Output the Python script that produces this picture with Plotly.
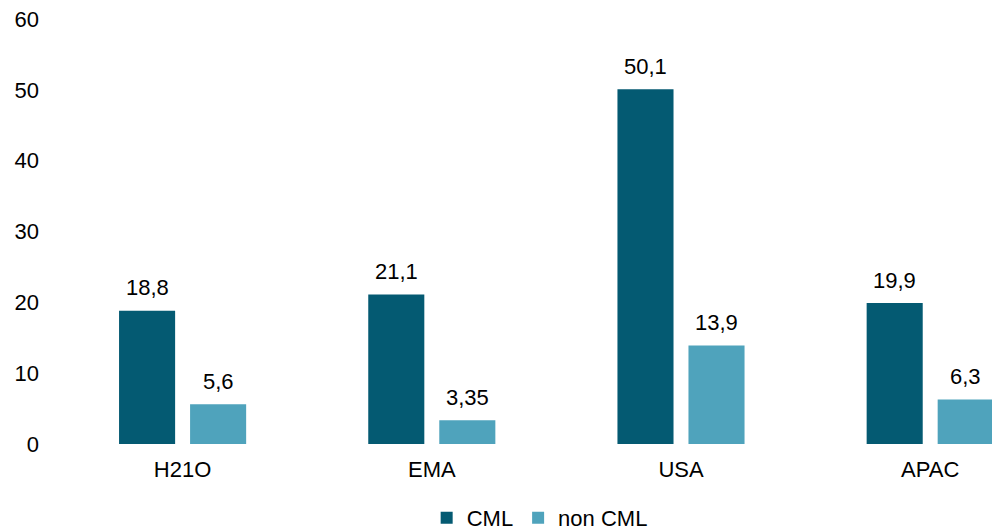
import plotly.graph_objects as go

# Données
regions = ['H21O', 'EMA', 'USA', 'APAC']
cml = [18.8, 21.1, 50.1, 19.9]
non_cml = [5.6, 3.35, 13.9, 6.3]
cml_labels = ['18,8', '21,1', '50,1', '19,9']
non_cml_labels = ['5,6', '3,35', '13,9', '6,3']
y_ticks = [0, 10, 20, 30, 40, 50, 60]

DARK = '#045a72'
LIGHT = '#4fa3bc'
FONT = 'Liberation Sans, Arial, sans-serif'
BAR_W = 0.225

fig = go.Figure()

fig.add_trace(go.Bar(
    x=regions, y=cml, name='CML',
    marker=dict(color=DARK, line=dict(width=0)),
    width=BAR_W, offset=-0.255
))
fig.add_trace(go.Bar(
    x=regions, y=non_cml, name='non CML',
    marker=dict(color=LIGHT, line=dict(width=0)),
    width=BAR_W, offset=0.030
))

# Etiquettes de valeurs au-dessus des barres
annotations = []
for reg, v, lab in zip(regions, cml, cml_labels):
    annotations.append(dict(x=reg, y=v, text=lab, showarrow=False,
                            xshift=-35.5, yshift=23, yanchor='middle',
                            font=dict(size=22, color='#000000', family=FONT)))
for reg, v, lab in zip(regions, non_cml, non_cml_labels):
    annotations.append(dict(x=reg, y=v, text=lab, showarrow=False,
                            xshift=35.5, yshift=23, yanchor='middle',
                            font=dict(size=22, color='#000000', family=FONT)))

fig.update_layout(
    width=992, height=531,
    margin=dict(l=58, r=0, t=19, b=87, autoexpand=False),
    paper_bgcolor='white',
    plot_bgcolor='white',
    font=dict(family=FONT, size=22, color='#000000'),
    barmode='group',
    annotations=annotations,
    showlegend=True,
    legend=dict(
        orientation='h',
        xanchor='center', x=0.5157,
        yanchor='middle', y=-0.174,
        font=dict(size=22, family=FONT),
        itemwidth=30,
        traceorder='normal'
    ),
    xaxis=dict(
        range=[-0.5, 3.248],
        showgrid=False, showline=False, zeroline=False,
        ticks='', ticklabelstandoff=10,
        tickfont=dict(size=22)
    ),
    yaxis=dict(
        range=[0, 60],
        tickvals=y_ticks,
        showgrid=False, showline=False, zeroline=False,
        ticks='', ticklabelstandoff=18,
        tickfont=dict(size=22)
    ),
)

# marge du body à zéro pour que la figure occupe toute la fenêtre
fig.write_html('out.html', config={'displayModeBar': False},
               post_script="document.body.style.margin='0';")
